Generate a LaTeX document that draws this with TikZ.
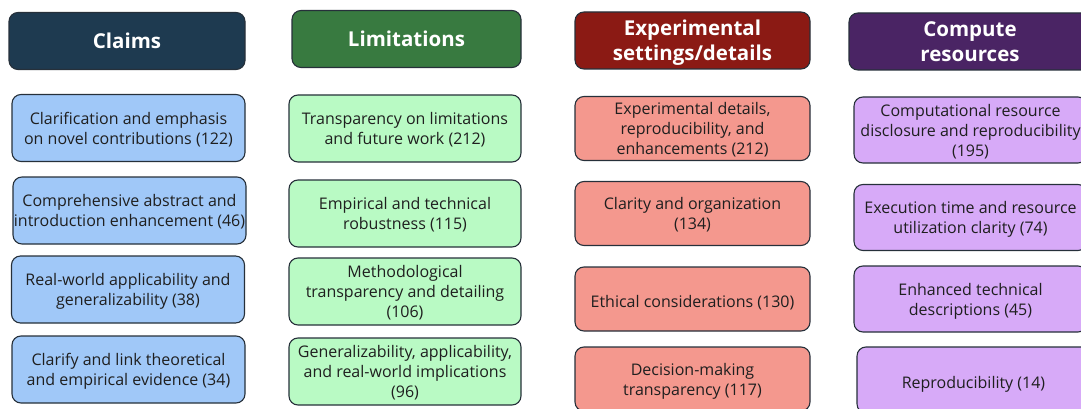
\documentclass[tikz,border=0pt]{standalone}
\usepackage{fontspec}
\setmainfont{Open Sans}
\definecolor{claimsdark}{RGB}{30,58,80}
\definecolor{limitsdark}{RGB}{56,122,64}
\definecolor{expdark}{RGB}{139,26,20}
\definecolor{computedark}{RGB}{74,36,100}
\definecolor{claimslight}{RGB}{160,200,248}
\definecolor{limitslight}{RGB}{185,250,196}
\definecolor{explight}{RGB}{244,152,142}
\definecolor{computelight}{RGB}{215,170,248}
\definecolor{boxline}{RGB}{38,48,58}
\begin{document}
\begin{tikzpicture}[x=1pt,y=-1pt,
    box/.style={draw=boxline,line width=1.1pt,rounded corners=9pt,align=center,inner sep=0pt},
    head/.style={box,text=white,minimum height=57pt,font=\fontsize{20.5}{25}\selectfont\bfseries},
    headtwo/.style={head,text depth=0pt,execute at begin node={\rule{0pt}{19.5pt}}},
    item/.style={box,text=black!88,text depth=0pt,execute at begin node={\rule{0pt}{17pt}},
      font=\fontsize{16}{20}\selectfont},
    claim/.style={item,fill=claimslight,minimum width=233pt,minimum height=67pt},
    limit/.style={item,fill=limitslight,minimum width=232pt,minimum height=67pt},
    expt/.style={item,fill=explight,minimum width=235pt,minimum height=64pt},
    comp/.style={item,fill=computelight,minimum width=233pt,minimum height=66pt}]
      \useasboundingbox (0,0) rectangle (1081,409);
      \draw
        (127,41) node[head,fill=claimsdark,minimum width=236pt] (claims){Claims}
        (406.5,39) node[head,fill=limitsdark,minimum width=229pt] (limits){Limitations}
        (692.5,40.5) node[headtwo,fill=expdark,minimum width=235pt] (expt){Experimental\\settings/details}
        (970,41.5) node[headtwo,fill=computedark,minimum width=242pt] (comp){Compute\\resources};
      \draw
        (128.5,128) node[claim] (c1){Clarification and emphasis\\on novel contributions (122)}
        (129.5,210.5) node[claim] (c2){Comprehensive abstract and\\introduction enhancement (46)}
        (128,289.5) node[claim] (c3){Real-world applicability and\\generalizability (38)}
        (128.5,369.5) node[claim] (c4){Clarify and link theoretical\\and empirical evidence (34)};
      \draw
        (405,128.5) node[limit] (l1){Transparency on limitations\\and future work (212)}
        (405,213.5) node[limit] (l2){Empirical and technical\\robustness (115)}
        (405,291.5) node[limit] (l3){Methodological\\transparency and detailing\\(106)}
        (405,371.5) node[limit] (l4){Generalizability, applicability,\\and real-world implications\\(96)};
      \draw
        (692.5,128.5) node[expt] (e1){Experimental details,\\reproducibility, and\\enhancements (212)}
        (692.5,213.5) node[expt] (e2){Clarity and organization\\(134)}
        (692.5,299) node[expt] (e3){Ethical considerations (130)}
        (692.5,379) node[expt] (e4){Decision-making\\transparency (117)};
      \draw
        (970.5,130) node[comp] (p1){Computational resource\\disclosure and reproducibility\\(195)}
        (970.5,217.5) node[comp] (p2){Execution time and resource\\utilization clarity (74)}
        (970.5,299) node[comp] (p3){Enhanced technical\\descriptions (45)}
        (973.5,380) node[comp] (p4){Reproducibility (14)};
    \end{tikzpicture}
\end{document}
